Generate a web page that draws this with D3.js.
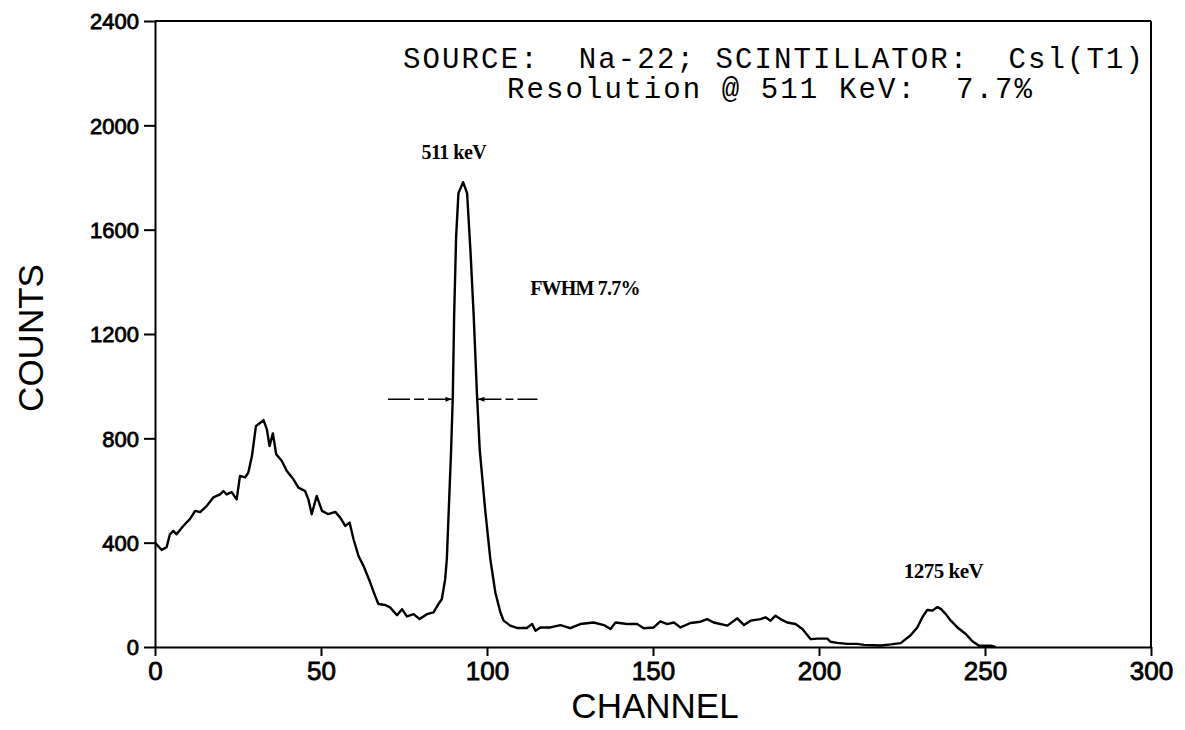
<!DOCTYPE html>
<html>
<head>
<meta charset="utf-8">
<script src="https://cdn.jsdelivr.net/npm/d3@7"></script>
<style>
body { margin: 0; background: #fff; }
</style>
</head>
<body>
<script>
// spectrum: channel and counts
var channels = [0, 2.0, 3.5, 4.5, 5.5, 6.5, 8.5, 10.5, 12.1, 13.6, 15.6, 17.6, 19.6, 20.6, 21.6, 23.1, 24.6, 25.6,
	27.1, 28.1, 29.2, 30.4, 31.7, 32.7, 33.7, 34.5, 35.5, 36.5, 38.2, 39.7, 41.7, 43.2, 45.2, 46.2, 47.2, 48.7,
	50.3, 52.2, 54.3, 55.8, 57.3, 58.6, 59.8, 61.3, 62.8, 64.8, 66.3, 67.3, 69.3, 70.8, 72.9, 74.4, 75.9, 77.9,
	79.7, 81.9, 83.9, 85.4, 86.4, 87.4, 87.9, 89.2, 89.7, 90.1, 90.7, 91.4, 92.8, 94.0, 95.0, 96.0, 97.0, 97.8,
	99.5, 101.0, 102.5, 104.0, 105.0, 107.0, 109.0, 112.0, 113.6, 114.6, 116.1, 119.1, 122.1, 125.1, 128.1,
	132.1, 135.2, 137.2, 138.7, 142.2, 145.2, 147.2, 150.2, 152.2, 154.3, 156.3, 158.3, 161.3, 164.3, 166.3,
	168.3, 172.4, 175.4, 177.4, 179.4, 182.4, 183.9, 185.4, 186.9, 188.4, 190.4, 192.9, 195.0, 197.5, 199.5,
	202.5, 203.5, 205.5, 208.5, 211.5, 213.6, 218.6, 221.6, 224.6, 227.6, 229.6, 231.1, 232.6, 234.2, 235.7,
	236.7, 238.2, 239.7, 241.7, 244.2, 246.2, 248.2, 251.7, 253.2];
var counts = [400, 372, 383, 432, 445, 432, 464, 490, 522, 517, 541, 574, 585, 598, 585, 594, 566, 656,
	650, 668, 732, 847, 860, 870, 834, 770, 819, 739, 713, 675, 643, 611, 598, 566, 509, 579,
	522, 509, 518, 496, 464, 477, 413, 349, 311, 248, 196, 165, 161, 152, 122, 145, 117, 126,
	107, 126, 133, 165, 184, 260, 337, 758, 962, 1268, 1574, 1740, 1782, 1740, 1523, 1268, 962, 758,
	520, 337, 210, 134, 101, 82, 73, 73, 88, 62, 75, 75, 84, 72, 88,
	94, 84, 69, 94, 88, 88, 72, 75, 98, 88, 94, 75, 92, 97, 107,
	94, 82, 110, 84, 101, 107, 114, 101, 120, 107, 94, 88, 69, 30, 32,
	32, 20, 16, 12, 12, 8, 6, 10, 15, 45, 75, 113, 142, 140, 153,
	146, 126, 101, 75, 50, 22, 5, 5, 0];

var xTicks = [0, 50, 100, 150, 200, 250, 300];
var yTicks = [0, 400, 800, 1200, 1600, 2000, 2400];

// peak labels: text, channel, counts
var peakLabels = ["511 keV", "1275 keV"];
var peakChannels = [90, 237.5];
var peakCounts = [1870, 265];

// FWHM arrows (left piece, right piece) in channel units, at this count level
var fwhmLeft = [70.2, 89.4];
var fwhmRight = [97.3, 115.2];
var fwhmCount = 950;

var svg = d3.select("body")
	.append("svg")
	.attr("width", 1185)
	.attr("height", 730);

var xScale = d3.scaleLinear()
	.domain([0, 300])
	.range([155, 1151]);

var yScale = d3.scaleLinear()
	.domain([0, 2400])
	.range([647, 21]);

var data = channels.map(function(c, i) { return {ch: c, n: counts[i]}; });

// frame: top and right border
svg.append("line")
	.attr("x1", xScale(0)).attr("x2", xScale(300))
	.attr("y1", yScale(2400)).attr("y2", yScale(2400))
	.attr("stroke", "#000").attr("stroke-width", 2);
svg.append("line")
	.attr("x1", xScale(300)).attr("x2", xScale(300))
	.attr("y1", yScale(2400)).attr("y2", yScale(0))
	.attr("stroke", "#000").attr("stroke-width", 2);

// x-axis
var xAxis = svg.append("g")
	.attr("transform", "translate(0," + yScale(0) + ")")
	.call(d3.axisBottom(xScale).tickValues(xTicks).tickFormat(d3.format("d"))
		.tickSize(9).tickSizeOuter(0).tickPadding(6));

// y-axis
var yAxis = svg.append("g")
	.attr("transform", "translate(" + xScale(0) + ",0)")
	.call(d3.axisLeft(yScale).tickValues(yTicks).tickFormat(d3.format("d"))
		.tickSize(11).tickSizeOuter(0).tickPadding(5));

[xAxis, yAxis].forEach(function(ax) {
	ax.select(".domain").attr("stroke", "#000").attr("stroke-width", 2);
	ax.selectAll(".tick line").attr("stroke", "#000").attr("stroke-width", 2);
	ax.selectAll(".tick text")
		.attr("fill", "#000")
		.attr("stroke", "#000")
		.attr("stroke-width", 0.8)
		.style("font-family", "'Liberation Sans', Arial, sans-serif");
});
xAxis.selectAll(".tick text").style("font-size", "26px");
yAxis.selectAll(".tick text").style("font-size", "22px").attr("dy", "0.36em");

// spectrum
var line = d3.line()
	.x(function(d) { return xScale(d.ch); })
	.y(function(d) { return yScale(d.n); });

svg.append("path")
	.datum(data)
	.attr("d", line)
	.attr("fill", "none")
	.attr("stroke", "#000")
	.attr("stroke-width", 2.4)
	.attr("stroke-linejoin", "round");

// axis titles
svg.append("text")
	.attr("x", 655)
	.attr("y", 718)
	.attr("text-anchor", "middle")
	.style("font-family", "'Liberation Sans', Arial, sans-serif")
	.style("font-size", "35px")
	.text("CHANNEL");

svg.append("text")
	.attr("transform", "translate(43,338) rotate(-90)")
	.attr("text-anchor", "middle")
	.style("font-family", "'Liberation Sans', Arial, sans-serif")
	.style("font-size", "35px")
	.text("COUNTS");

// source / resolution note
var note = svg.append("g")
	.style("font-family", "'Courier New', 'Liberation Mono', monospace")
	.style("font-size", "29px")
	.attr("fill", "#000");
note.append("text")
	.attr("x", 403).attr("y", 68)
	.attr("textLength", 740)
	.attr("xml:space", "preserve")
	.text("SOURCE:  Na-22; SCINTILLATOR:  Csl(T1)");
note.append("text")
	.attr("x", 507).attr("y", 98)
	.attr("textLength", 525)
	.attr("xml:space", "preserve")
	.text("Resolution @ 511 KeV:  7.7%");

// peak labels
svg.selectAll(".peak")
	.data(peakLabels)
	.enter().append("text")
	.attr("class", "peak")
	.attr("x", function(d, i) { return xScale(peakChannels[i]); })
	.attr("y", function(d, i) { return yScale(peakCounts[i]); })
	.attr("text-anchor", "middle")
	.style("font-family", "'Liberation Serif', 'Times New Roman', serif")
	.style("font-weight", "bold")
	.style("font-size", function(d, i) { return i == 0 ? "20px" : "21px"; })
	.style("letter-spacing", "-0.5px")
	.text(function(d) { return d; });

svg.append("text")
	.attr("x", xScale(129.5))
	.attr("y", yScale(1350))
	.attr("text-anchor", "middle")
	.style("font-family", "'Liberation Serif', 'Times New Roman', serif")
	.style("font-weight", "bold")
	.style("font-size", "20px")
	.style("letter-spacing", "-0.8px")
	.text("FWHM 7.7%");

// FWHM arrows
var defs = svg.append("defs");
defs.append("marker")
	.attr("id", "arr")
	.attr("viewBox", "0 0 10 10")
	.attr("refX", 10).attr("refY", 5)
	.attr("markerWidth", 8).attr("markerHeight", 4)
	.attr("markerUnits", "strokeWidth")
	.attr("orient", "auto")
	.append("path")
	.attr("d", "M0,1 L10,5 L0,9 Z")
	.attr("fill", "#000");

svg.append("line")
	.attr("x1", xScale(fwhmLeft[0])).attr("x2", xScale(fwhmLeft[1]))
	.attr("y1", yScale(fwhmCount)).attr("y2", yScale(fwhmCount))
	.attr("stroke", "#000").attr("stroke-width", 1.6)
	.attr("stroke-dasharray", "22,4,10,4,100")
	.attr("marker-end", "url(#arr)");
svg.append("line")
	.attr("x1", xScale(fwhmRight[1])).attr("x2", xScale(fwhmRight[0]))
	.attr("y1", yScale(fwhmCount)).attr("y2", yScale(fwhmCount))
	.attr("stroke", "#000").attr("stroke-width", 1.6)
	.attr("stroke-dasharray", "20,4,8,4,100")
	.attr("marker-end", "url(#arr)");
</script>
</body>
</html>
